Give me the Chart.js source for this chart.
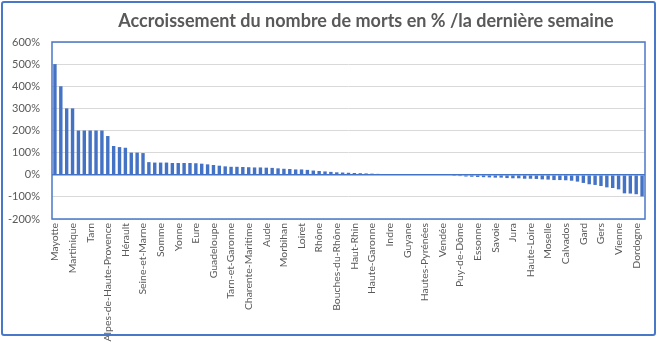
<!DOCTYPE html>
<html>
<head>
<meta charset="utf-8">
<script src="https://cdn.jsdelivr.net/npm/chart.js@4/dist/chart.umd.min.js"></script>
<style>
  body { margin: 0; background: #fff; }
  .wrap { position: relative; width: 661px; height: 364px; }
  .frame { position: absolute; left: 1px; top: 1px; width: 651px; height: 331px;
           border: 2px solid #4a78c8; border-radius: 3px; pointer-events: none; }
</style>
</head>
<body>
<div class="wrap">
  <canvas id="chart" width="661" height="364"></canvas>
  <div class="frame"></div>
</div>
<script>
const chartTitle = "Accroissement du nombre de morts en % /la dernière semaine";

// départements, sorted by weekly increase (only every 3rd name is printed)
const departements = [
  "Mayotte", "Lozère", "Creuse",
  "Martinique", "Cantal", "Corrèze",
  "Tarn", "Ariège", "Haute-Marne",
  "Alpes-de-Haute-Provence", "Aveyron", "Lot",
  "Hérault", "Hautes-Alpes", "Nièvre",
  "Seine-et-Marne", "Ardèche", "Corse-du-Sud",
  "Somme", "Haute-Corse", "Indre-et-Loire",
  "Yonne", "Deux-Sèvres", "Orne",
  "Eure", "Landes", "Mayenne",
  "Guadeloupe", "Allier", "Meuse",
  "Tarn-et-Garonne", "Cher", "Charente",
  "Charente-Maritime", "Sarthe", "Loir-et-Cher",
  "Aude", "Lot-et-Garonne", "Manche",
  "Morbihan", "Finistère", "Côtes-d'Armor",
  "Loiret", "Ille-et-Vilaine", "Maine-et-Loire",
  "Rhône", "Loire-Atlantique", "Gironde",
  "Bouches-du-Rhône", "Var", "Vaucluse",
  "Haut-Rhin", "Bas-Rhin", "Pyrénées-Orientales",
  "Haute-Garonne", "Pyrénées-Atlantiques", "Drôme",
  "Indre", "Haute-Vienne", "La Réunion",
  "Guyane", "Territoire de Belfort", "Haute-Saône",
  "Hautes-Pyrénées", "Eure-et-Loir", "Ain",
  "Vendée", "Doubs", "Côte-d'Or",
  "Puy-de-Dôme", "Saône-et-Loire", "Isère",
  "Essonne", "Yvelines", "Val-d'Oise",
  "Savoie", "Haute-Savoie", "Alpes-Maritimes",
  "Jura", "Loire", "Vosges",
  "Haute-Loire", "Meurthe-et-Moselle", "Marne",
  "Moselle", "Ardennes", "Aube",
  "Calvados", "Seine-Maritime", "Oise",
  "Gard", "Aisne", "Nord",
  "Gers", "Pas-de-Calais", "Paris",
  "Vienne", "Hauts-de-Seine", "Seine-Saint-Denis",
  "Dordogne", "Val-de-Marne"
];

// weekly increase of deaths, in %
const accroissement = [
  500, 400, 300, 300, 200, 200, 200, 200, 200, 175, 130, 125, 122, 100, 100, 98,
  57, 55, 55, 55, 53, 53, 53, 53, 52,
  50, 47, 44, 41, 38, 36, 36, 35, 34, 33, 33, 32, 31, 29, 27, 26, 24, 24, 22,
  19, 17, 15, 13, 11, 10, 9, 8, 7, 6, 5, 4, 2,
  0, 0, 0, 0, 0, 0, 0, 0, 0, 0, 0,
  -5, -6, -8, -9, -10, -11, -12, -13, -13, -15, -16, -16, -18, -18, -19, -21,
  -22, -24, -24, -25, -27, -31, -37, -43, -46, -51, -57, -60, -66, -84, -85, -88, -98
];

const yTicks = [-200, -100, 0, 100, 200, 300, 400, 500, 600];

const blue = "#4472c4";
const grey = "#595959";

// plot area frame + title
const framePlugin = {
  id: "framePlugin",
  afterDraw(chart) {
    const { ctx, chartArea: a } = chart;
    ctx.save();
    ctx.strokeStyle = "#4a78c8";
    ctx.lineWidth = 1.5;
    ctx.strokeRect(a.left, a.top, a.right - a.left, a.bottom - a.top);
    ctx.fillStyle = grey;
    ctx.font = "bold 18px Lato";
    ctx.textAlign = "center";
    ctx.textBaseline = "middle";
    ctx.fillText(chartTitle, 366, 21);
    ctx.restore();
  }
};

new Chart(document.getElementById("chart"), {
  type: "bar",
  data: {
    labels: departements,
    datasets: [{
      data: accroissement,
      backgroundColor: blue,
      barPercentage: 0.58,
      categoryPercentage: 1
    }]
  },
  options: {
    responsive: false,
    animation: false,
    layout: { padding: { top: 42, right: 16, left: 0, bottom: 0 } },
    plugins: { legend: { display: false }, tooltip: { enabled: false } },
    scales: {
      x: {
        offset: true,
        afterFit: (s) => { s.height = 145; },
        grid: { display: false, drawTicks: false },
        border: { display: false },
        ticks: {
          autoSkip: false,
          minRotation: 90,
          maxRotation: 90,
          padding: 4,
          color: grey,
          font: { family: "Lato", size: 10.4 },
          callback: function (v, i) { return i % 3 === 0 ? departements[i] : ""; }
        }
      },
      y: {
        min: -200,
        max: 600,
        afterFit: (s) => { s.width = 52; },
        afterBuildTicks: (s) => { s.ticks = yTicks.map(v => ({ value: v })); },
        border: { display: false },
        grid: {
          drawTicks: false,
          color: (c) => c.tick && c.tick.value === 0 ? blue : "#d9d9d9",
          lineWidth: (c) => c.tick && c.tick.value === 0 ? 1.5 : 1
        },
        ticks: {
          padding: 12,
          color: grey,
          font: { family: "Lato", size: 11 },
          callback: (v) => v + "%"
        }
      }
    }
  },
  plugins: [framePlugin]
});
</script>
</body>
</html>
